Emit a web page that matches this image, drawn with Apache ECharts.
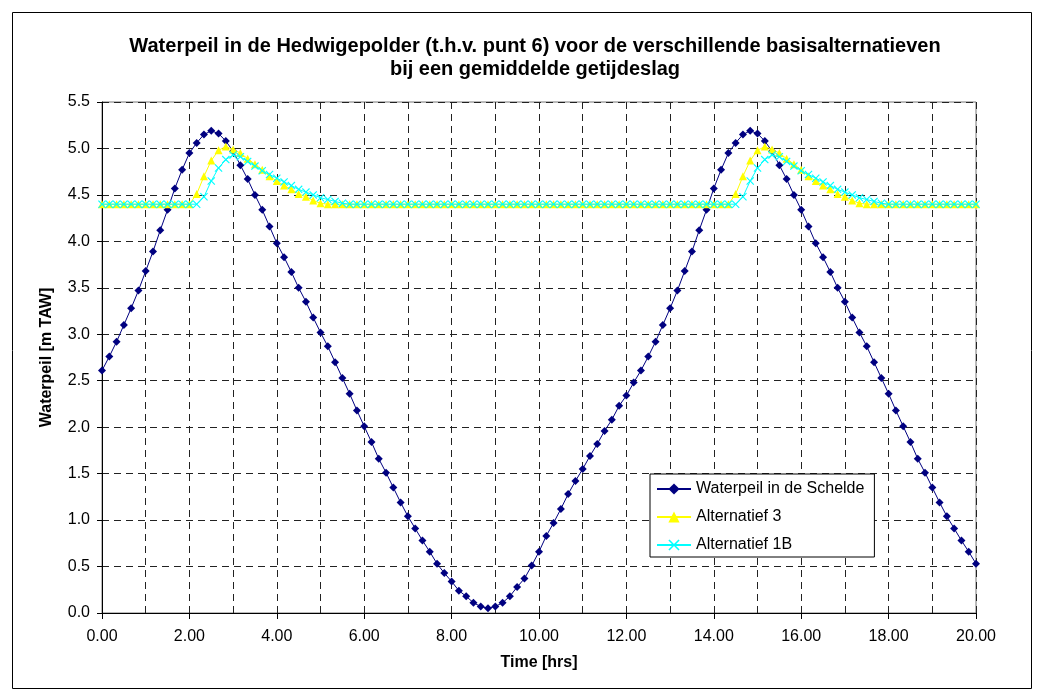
<!DOCTYPE html>
<html>
<head>
<meta charset="utf-8">
<script src="https://cdn.jsdelivr.net/npm/echarts@6/dist/echarts.min.js"></script>
<style>
  html, body { margin: 0; padding: 0; background: #fff; }
  #chart { width: 1044px; height: 699px; }
</style>
</head>
<body>
<div id="chart"></div>
<script>
// Time steps: every 10 minutes from 0 to 20 hours (121 points)
const timeLabels = [];
for (let i = 0; i <= 120; i++) timeLabels.push((i * 10 / 60).toFixed(2));

const seriesNames = ['Waterpeil in de Schelde', 'Alternatief 3', 'Alternatief 1B'];

const waterpeilSchelde = [
  2.61, 2.76, 2.92, 3.10, 3.28, 3.47, 3.68, 3.89, 4.12, 4.34,
  4.57, 4.77, 4.95, 5.06, 5.15, 5.19, 5.16, 5.08, 4.97, 4.82,
  4.67, 4.50, 4.34, 4.16, 3.98, 3.83, 3.67, 3.50, 3.35, 3.18,
  3.02, 2.87, 2.70, 2.53, 2.36, 2.18, 2.01, 1.84, 1.66, 1.51,
  1.35, 1.19, 1.04, 0.91, 0.78, 0.66, 0.53, 0.43, 0.34, 0.24,
  0.18, 0.11, 0.07, 0.05, 0.07, 0.11, 0.18, 0.28, 0.37, 0.51,
  0.66, 0.83, 0.97, 1.12, 1.28, 1.42, 1.55, 1.69, 1.82, 1.96,
  2.08, 2.23, 2.34, 2.48, 2.61, 2.76, 2.92, 3.10, 3.28, 3.47,
  3.68, 3.89, 4.12, 4.34, 4.57, 4.77, 4.95, 5.06, 5.15, 5.19,
  5.16, 5.08, 4.97, 4.82, 4.67, 4.50, 4.34, 4.16, 3.98, 3.83,
  3.67, 3.50, 3.35, 3.18, 3.02, 2.87, 2.70, 2.53, 2.36, 2.18,
  2.01, 1.84, 1.66, 1.51, 1.35, 1.19, 1.04, 0.91, 0.78, 0.66,
  0.53
];

const alternatief3 = [
  4.40, 4.40, 4.40, 4.40, 4.40, 4.40, 4.40, 4.40, 4.40, 4.40,
  4.40, 4.40, 4.40, 4.51, 4.70, 4.87, 4.98, 5.02, 4.99, 4.95,
  4.89, 4.83, 4.77, 4.70, 4.65, 4.60, 4.56, 4.51, 4.48, 4.44,
  4.41, 4.40, 4.40, 4.40, 4.40, 4.40, 4.40, 4.40, 4.40, 4.40,
  4.40, 4.40, 4.40, 4.40, 4.40, 4.40, 4.40, 4.40, 4.40, 4.40,
  4.40, 4.40, 4.40, 4.40, 4.40, 4.40, 4.40, 4.40, 4.40, 4.40,
  4.40, 4.40, 4.40, 4.40, 4.40, 4.40, 4.40, 4.40, 4.40, 4.40,
  4.40, 4.40, 4.40, 4.40, 4.40, 4.40, 4.40, 4.40, 4.40, 4.40,
  4.40, 4.40, 4.40, 4.40, 4.40, 4.40, 4.40, 4.51, 4.70, 4.87,
  4.98, 5.02, 4.99, 4.95, 4.89, 4.83, 4.77, 4.70, 4.65, 4.60,
  4.56, 4.51, 4.48, 4.44, 4.41, 4.40, 4.40, 4.40, 4.40, 4.40,
  4.40, 4.40, 4.40, 4.40, 4.40, 4.40, 4.40, 4.40, 4.40, 4.40,
  4.40
];

const alternatief1B = [
  4.40, 4.40, 4.40, 4.40, 4.40, 4.40, 4.40, 4.40, 4.40, 4.40,
  4.40, 4.40, 4.40, 4.40, 4.48, 4.65, 4.79, 4.88, 4.93, 4.91,
  4.86, 4.81, 4.76, 4.72, 4.68, 4.64, 4.60, 4.56, 4.53, 4.50,
  4.47, 4.45, 4.43, 4.41, 4.40, 4.40, 4.40, 4.40, 4.40, 4.40,
  4.40, 4.40, 4.40, 4.40, 4.40, 4.40, 4.40, 4.40, 4.40, 4.40,
  4.40, 4.40, 4.40, 4.40, 4.40, 4.40, 4.40, 4.40, 4.40, 4.40,
  4.40, 4.40, 4.40, 4.40, 4.40, 4.40, 4.40, 4.40, 4.40, 4.40,
  4.40, 4.40, 4.40, 4.40, 4.40, 4.40, 4.40, 4.40, 4.40, 4.40,
  4.40, 4.40, 4.40, 4.40, 4.40, 4.40, 4.40, 4.40, 4.48, 4.65,
  4.79, 4.88, 4.93, 4.91, 4.86, 4.81, 4.76, 4.72, 4.68, 4.64,
  4.60, 4.56, 4.53, 4.50, 4.47, 4.45, 4.43, 4.41, 4.40, 4.40,
  4.40, 4.40, 4.40, 4.40, 4.40, 4.40, 4.40, 4.40, 4.40, 4.40,
  4.40
];

const FONT = '"Liberation Sans", Arial, sans-serif';
const crossPath = 'path://M0,1 L1,0 L5,4 L9,0 L10,1 L6,5 L10,9 L9,10 L5,6 L1,10 L0,9 L4,5 Z';
const gridDash = { color: '#222', width: 1, type: [7, 5] };

const chart = echarts.init(document.getElementById('chart'), null, { renderer: 'canvas' });
chart.setOption({
  animation: false,
  backgroundColor: '#fff',
  textStyle: { fontFamily: FONT },
  graphic: [{
    type: 'rect', silent: true, z: -10,
    shape: { x: 12.5, y: 12.5, width: 1019, height: 676 },
    style: { fill: 'none', stroke: '#000', lineWidth: 1 }
  }],
  title: {
    text: 'Waterpeil in de Hedwigepolder (t.h.v. punt 6) voor de verschillende basisalternatieven\nbij een gemiddelde getijdeslag',
    left: 530, top: 30, textAlign: 'center',
    textStyle: { fontFamily: FONT, fontSize: 20, fontWeight: 'bold', color: '#000', lineHeight: 23 }
  },
  legend: {
    orient: 'vertical', left: 650, top: 474,
    padding: [7, 10, 4, 6], itemGap: 12, itemWidth: 34, itemHeight: 14,
    backgroundColor: '#fff', borderColor: '#000', borderWidth: 1,
    textStyle: { fontFamily: FONT, fontSize: 16, color: '#000' },
    data: seriesNames
  },
  grid: { left: 102, right: 68, top: 102, bottom: 86, containLabel: false,
          show: true, borderColor: '#777', borderWidth: 1 },
  xAxis: {
    type: 'category', data: timeLabels, boundaryGap: false,
    name: 'Time [hrs]', nameLocation: 'middle', nameGap: 42,
    nameTextStyle: { fontFamily: FONT, fontSize: 16, fontWeight: 'bold', color: '#000' },
    axisLine: { lineStyle: { color: '#000', width: 1 } },
    axisTick: { show: true, interval: 11, length: 6, inside: false, lineStyle: { color: '#000' } },
    axisLabel: { interval: 11, margin: 16, fontSize: 16, color: '#000', fontFamily: FONT },
    splitLine: { show: true, interval: 5, lineStyle: gridDash }
  },
  yAxis: {
    type: 'value', min: 0, max: 5.5, interval: 0.5,
    name: 'Waterpeil [m TAW]', nameLocation: 'middle', nameGap: 47, nameRotate: 90,
    nameTextStyle: { fontFamily: FONT, fontSize: 16, fontWeight: 'bold', color: '#000' },
    axisLine: { show: true, lineStyle: { color: '#000', width: 1 } },
    axisTick: { show: true, length: 5, lineStyle: { color: '#000' } },
    axisLabel: { margin: 12, fontSize: 16, color: '#000', fontFamily: FONT,
                 formatter: v => v.toFixed(1) },
    splitLine: { show: true, lineStyle: gridDash }
  },
  series: [
    {
      name: seriesNames[0], type: 'line', data: waterpeilSchelde,
      symbol: 'diamond', symbolSize: 8, showAllSymbol: true,
      lineStyle: { color: '#000080', width: 1 },
      itemStyle: { color: '#000080' }, z: 3
    },
    {
      name: seriesNames[1], type: 'line', data: alternatief3,
      symbol: 'triangle', symbolSize: 8, showAllSymbol: true,
      lineStyle: { color: '#FFFF00', width: 1 },
      itemStyle: { color: '#FFFF00' }, z: 4
    },
    {
      name: seriesNames[2], type: 'line', data: alternatief1B,
      symbol: crossPath, symbolSize: 8, showAllSymbol: true,
      lineStyle: { color: '#00FFFF', width: 1 },
      itemStyle: { color: '#00FFFF' }, z: 5
    }
  ]
});
</script>
</body>
</html>
